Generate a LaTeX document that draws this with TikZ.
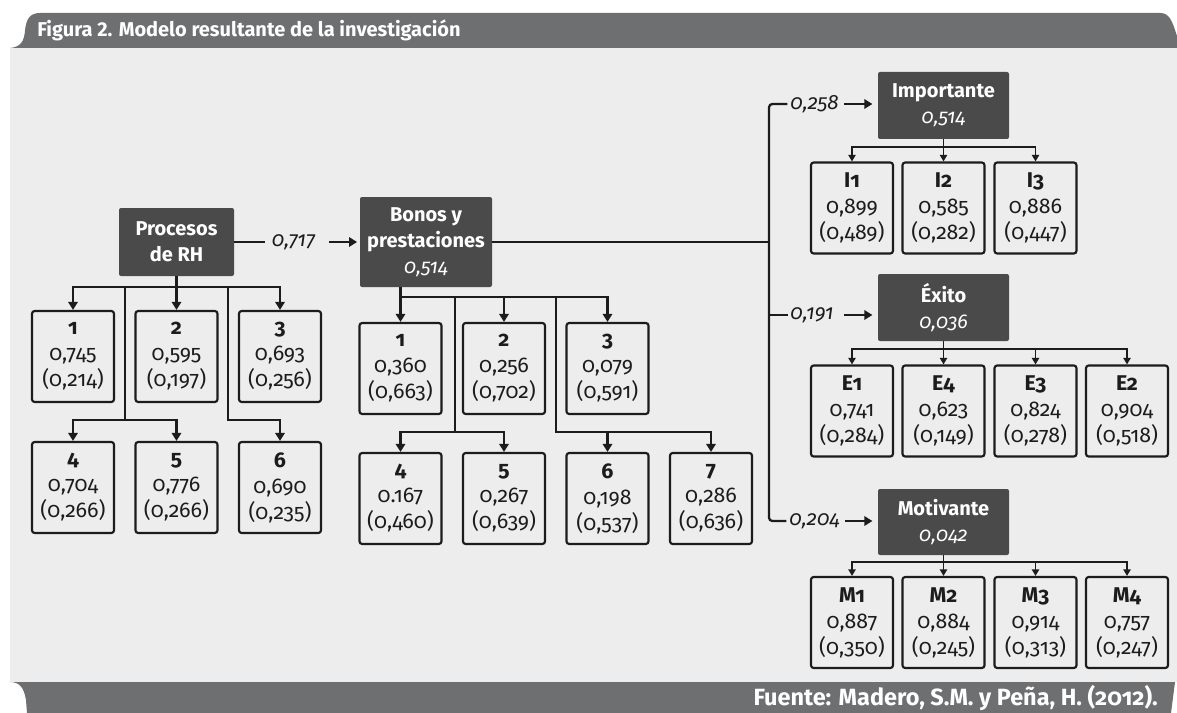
\documentclass[tikz,border=0pt]{standalone}
\usepackage{fontspec}
\setmainfont{Fira Sans}[Numbers=OldStyle]
\usetikzlibrary{arrows.meta}
\definecolor{panel}{HTML}{ECEDEC}
\definecolor{bar}{HTML}{6E6F71}
\definecolor{dark}{HTML}{4A4A4B}
\definecolor{ink}{HTML}{1C1C1C}
\newcommand\boxtext[3]{{\bfseries #1}\\#2\\(#3)}
\tikzset{
 darknode/.style={fill=dark, rounded corners=1.5pt, text=white, font=\bfseries\fontsize{15}{19.5}\selectfont, align=center, inner sep=0pt, minimum width=98.25pt, minimum height=50.25pt},
 valbox/.style={draw=ink, line width=1.6pt, rounded corners=2pt, fill=panel, align=center, inner sep=0pt, minimum width=61.5pt, minimum height=68.25pt, font=\fontsize{16}{19.5}\selectfont, text=ink},
 conn/.style={draw=ink, line width=1.7pt},
 arr/.style={conn, -{Triangle[width=7pt,length=6pt]}},
 sarr/.style={draw=ink, line width=1.4pt, -{Triangle[width=5.5pt,length=5pt]}},
 coef/.style={font=\itshape\fontsize{15.5}{18}\selectfont, inner sep=0pt, text=ink},
 bartext/.style={text=white, inner sep=0pt, font=\bfseries\fontsize{15}{18}\selectfont},
}
\begin{document}
\begin{tikzpicture}[x=0.75pt,y=-0.75pt]
\useasboundingbox (0,0) rectangle (1177,713);
\fill[white] (0,0) rectangle (1177,713);
\fill[panel] (10,48) rectangle (1177,682);
\fill[bar] (10,48) .. controls (21,47) and (24,41) .. (25,31) .. controls (26,19) and (30,13) .. (40,13) -- (1160,13) .. controls (1169,13) and (1172,20) .. (1177,36) -- (1177,48) -- cycle;
\fill[bar] (10,682) -- (1175,682) -- (1171,713) -- (27,713) -- (26,700) .. controls (24,688) and (20,682) .. (10,682) -- cycle;
\node[bartext, anchor=west] (title) at (37,30) {\addfontfeatures{Numbers=Lining}Figura 2. Modelo resultante de la investigación};
\node[bartext, anchor=east, font=\bfseries\fontsize{17.6}{20}\selectfont] (src) at (1158,698) {Fuente: Madero, S.M. y Peña, H. (2012).};

% main nodes
\node[darknode, minimum width=86.25pt, minimum height=51pt] (P) at (176.5,242) {Procesos\\de RH};
\node[darknode, minimum width=99pt, minimum height=67.5pt] (B) at (426,242) {Bonos y\\prestaciones\\{\mdseries\itshape 0,514}};
\node[darknode] (I) at (943.5,105.5) {Importante\\{\mdseries\itshape 0,514}};
\node[darknode] (E) at (943.5,307.5) {Éxito\\{\mdseries\itshape 0,036}};
\node[darknode, minimum height=49.5pt] (M) at (943.5,522) {Motivante\\{\mdseries\itshape 0,042}};

% Procesos children
\node[valbox] (p1) at (73,356.5) {\boxtext{1}{0,745}{0,214}};
\node[valbox] (p2) at (176.5,356.5) {\boxtext{2}{0,595}{0,197}};
\node[valbox] (p3) at (280,356.5) {\boxtext{3}{0,693}{0,256}};
\node[valbox] (p4) at (73,487.5) {\boxtext{4}{0,704}{0,266}};
\node[valbox] (p5) at (176.5,487.5) {\boxtext{5}{0,776}{0,266}};
\node[valbox] (p6) at (280,487.5) {\boxtext{6}{0,690}{0,235}};

% Bonos children
\node[valbox] (b1) at (400.5,368.5) {\boxtext{1}{0,360}{0,663}};
\node[valbox] (b2) at (504,368.5) {\boxtext{2}{0,256}{0,702}};
\node[valbox] (b3) at (607.5,368.5) {\boxtext{3}{0,079}{0,591}};
\node[valbox] (b4) at (400.5,498.5) {\boxtext{4}{0.167}{0,460}};
\node[valbox] (b5) at (504,498.5) {\boxtext{5}{0,267}{0,639}};
\node[valbox] (b6) at (607.5,498.5) {\boxtext{6}{0,198}{0,537}};
\node[valbox] (b7) at (711,498.5) {\boxtext{7}{0,286}{0,636}};

% Importante children
\node[valbox] (i1) at (852,208) {\boxtext{I1}{0,899}{0,489}};
\node[valbox] (i2) at (943.5,208) {\boxtext{I2}{0,585}{0,282}};
\node[valbox] (i3) at (1035.5,208) {\boxtext{I3}{0,886}{0,447}};

% Exito children
\node[valbox] (e1) at (852,411) {\boxtext{E1}{0,741}{0,284}};
\node[valbox] (e4) at (943.5,411) {\boxtext{E4}{0,623}{0,149}};
\node[valbox] (e3) at (1035.5,411) {\boxtext{E3}{0,824}{0,278}};
\node[valbox] (e2) at (1127,411) {\boxtext{E2}{0,904}{0,518}};

% Motivante children
\node[valbox] (m1) at (852,622.5) {\boxtext{M1}{0,887}{0,350}};
\node[valbox] (m2) at (943.5,622.5) {\boxtext{M2}{0,884}{0,245}};
\node[valbox] (m3) at (1035.5,622.5) {\boxtext{M3}{0,914}{0,313}};
\node[valbox] (m4) at (1127,622.5) {\boxtext{M4}{0,757}{0,247}};

% coefficient labels
\node[coef] (l717) at (293.5,242) {0,717};
\node[coef] (l258) at (814.5,104) {0,258};
\node[coef] (l191) at (812,315) {0,191};
\node[coef] (l204) at (814.5,521) {0,204};

% Procesos -> Bonos
\draw[conn] (P.east) -- ([xshift=-5pt]l717.west);
\draw[arr, shorten >=2pt] ([xshift=10pt]l717.east) -- (B.west);

% Procesos tree
\coordinate (pbus) at (176.5,287);
\coordinate (pj1) at (125,287);
\coordinate (pj2) at (228,287);
\coordinate (pbus2) at (125,420);
\draw[arr] (P.south) -- (p2.north);
\draw[arr] (pbus) -| (p1.north);
\draw[arr] (pbus) -| (p3.north);
\draw[arr] (pj1) |- (p4.north |- pbus2) -- (p4.north);
\draw[arr] (pj1) |- (p5.north |- pbus2) -- (p5.north);
\draw[arr] (pj2) |- (p6.north |- pbus2) -- (p6.north);

% Bonos tree
\coordinate (bbus) at (400.5,297);
\coordinate (bj1) at (455,297);
\coordinate (bj2) at (556,297);
\coordinate (bbus2) at (455,432);
\draw[arr] (b1.north |- B.south) -- (b1.north);
\draw[arr] (bbus) -| (b2.north);
\draw[arr] (bbus) -| (b3.north);
\draw[arr] (bj1) |- (b4.north |- bbus2) -- (b4.north);
\draw[arr] (bj1) |- (b5.north |- bbus2) -- (b5.north);
\draw[arr] (bj2) |- (b6.north |- bbus2) -- (b6.north);
\draw[arr] (bj2) |- (b7.north |- bbus2) -- (b7.north);

% Bonos -> right branches
\coordinate (rv) at (769,242);
\draw[conn] (B.east) -- (rv);
\draw[conn, rounded corners=2.5pt] ([xshift=-2pt]l258.west) -| (769,521) -- ([xshift=-2pt]l204.west);
\draw[conn] (769,315) -- ([xshift=-2pt]l191.west);
\draw[arr, shorten >=4pt] ([xshift=4pt]l258.east) -- (I.west |- l258);
\draw[arr, shorten >=4pt] ([xshift=8pt]l191.east) -- (E.west |- l191);
\draw[arr, shorten >=4pt] ([xshift=4pt]l204.east) -- (M.west |- l204);

% Importante tree
\coordinate (ibus) at (943.5,147);
\draw[sarr] (I.south) -- (i2.north);
\draw[sarr] (ibus) -| (i1.north);
\draw[sarr] (ibus) -| (i3.north);

% Exito tree
\coordinate (ebus) at (943.5,349);
\draw[sarr] (E.south) -- (e4.north);
\draw[sarr] (ebus) -| (e1.north);
\draw[sarr] (ebus) -| (e3.north);
\draw[sarr] (ebus) -| (e2.north);

% Motivante tree
\coordinate (mbus) at (943.5,562);
\draw[sarr] (M.south) -- (m2.north);
\draw[sarr] (mbus) -| (m1.north);
\draw[sarr] (mbus) -| (m3.north);
\draw[sarr] (mbus) -| (m4.north);
\end{tikzpicture}
\end{document}
